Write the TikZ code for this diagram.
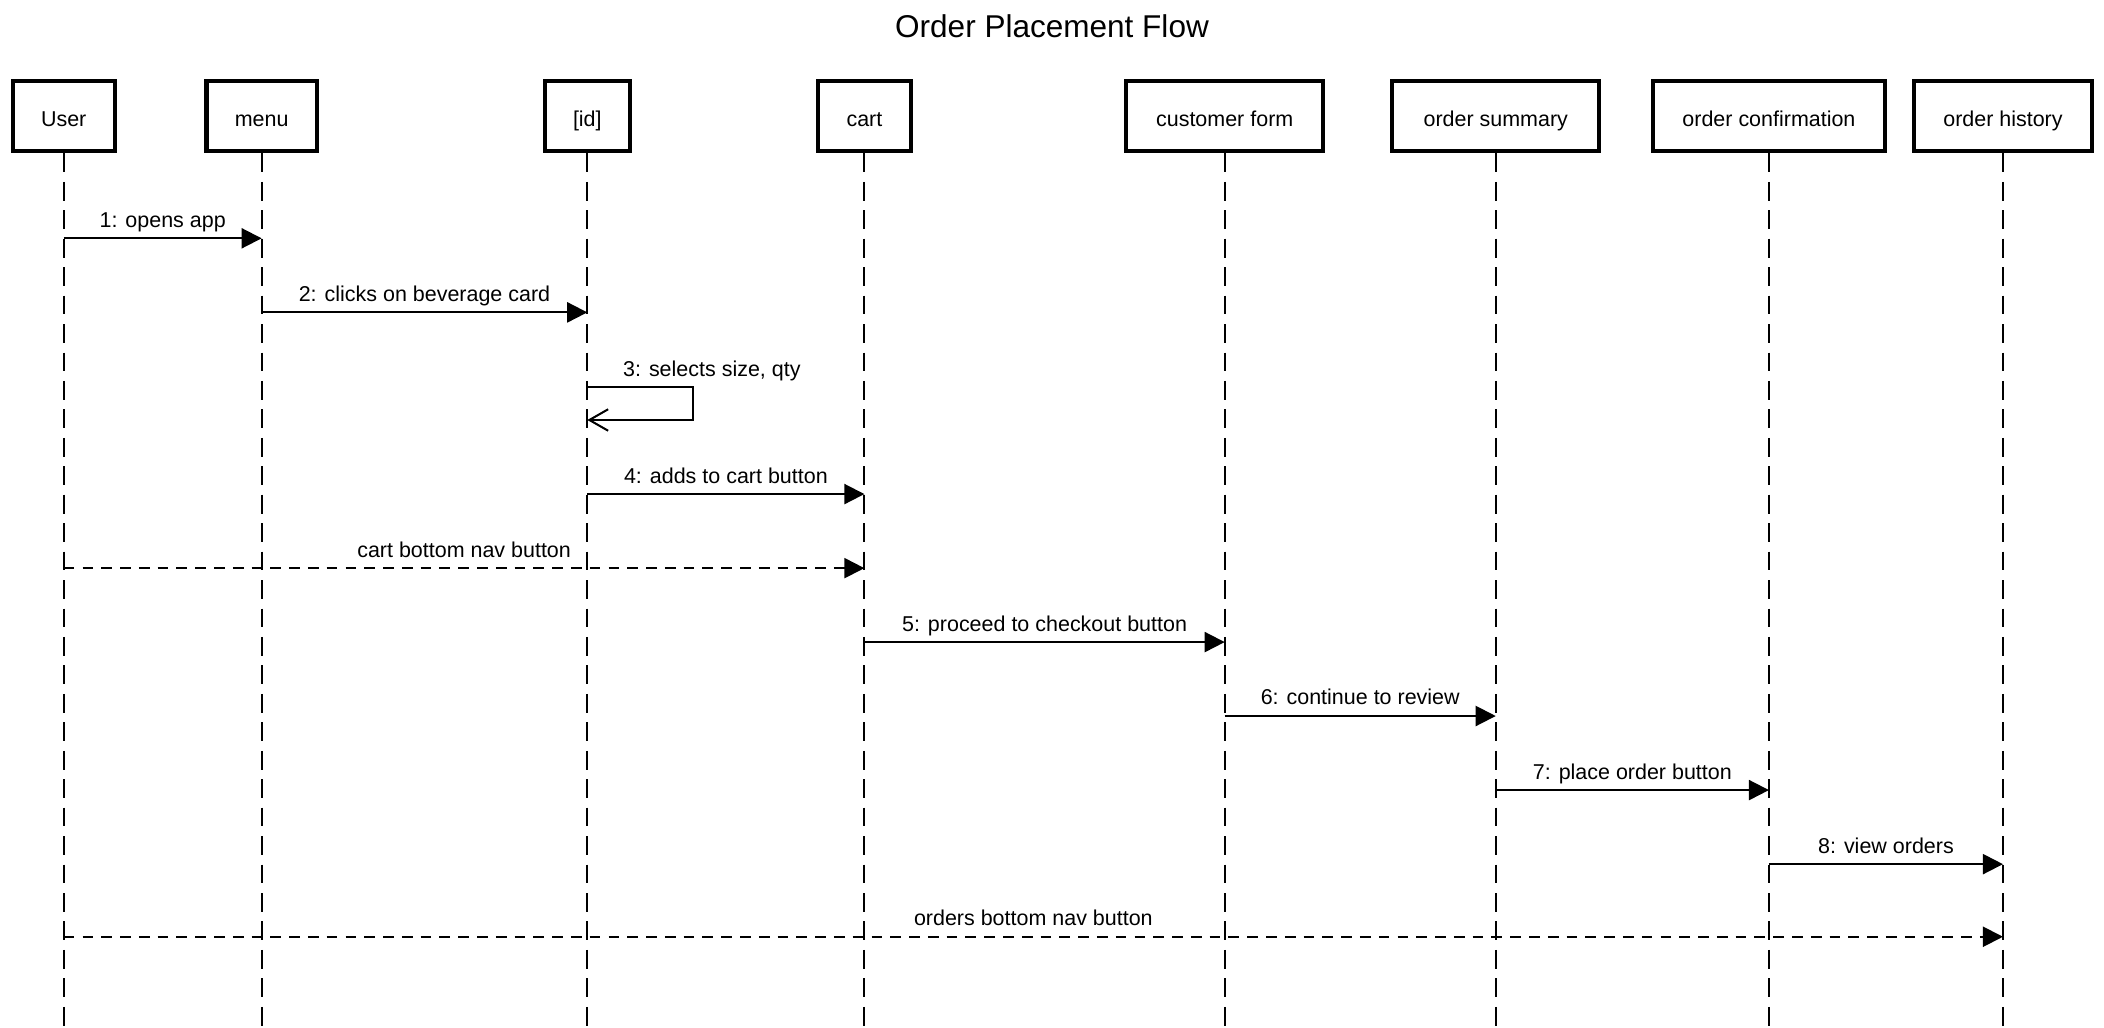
\documentclass[tikz,border=0pt]{standalone}
\usepackage{fontspec}
\setmainfont{Liberation Sans}
\usetikzlibrary{arrows.meta,positioning}

\tikzset{
	lifebox/.style={draw, line width=1.5pt, inner sep=0pt, minimum height=26.3pt, text height=7.5pt, text depth=0pt, font=\fontsize{8}{9.6}\selectfont},
	lifeline/.style={line width=0.75pt, dash pattern=on 7pt off 3.6pt},
	msg/.style={line width=0.75pt, -{Triangle[length=7.5pt,width=7.5pt]}},
	navmsg/.style={msg, dash pattern=on 4pt off 3pt},
	selfmsg/.style={line width=0.75pt, -{Straight Barb[length=7pt,width=8pt]}},
	msglabel/.style={font=\fontsize{8}{9.6}\selectfont, inner sep=0pt, text depth=0pt}
}

\begin{document}
\begin{tikzpicture}[x=0.5pt, y=-0.5pt]
			%%%%% START %%%%%
			\useasboundingbox (0, 0) rectangle (1568, 766);
			
			\node[font=\fontsize{11.75}{14}\selectfont, anchor=base] (title) at (784, 27.8) {Order Placement Flow};
			
			\node[lifebox, minimum width=38pt] (user) at (47.5, 86.5) {User};
			\node[lifebox, minimum width=41.1pt] (menu) at (195, 86.5) {menu};
			\node[lifebox, minimum width=31.6pt] (id) at (437.7, 86.5) {[id]};
			\node[lifebox, minimum width=34.7pt] (cart) at (644.2, 86.5) {cart};
			\node[lifebox, minimum width=73.5pt] (form) at (912.7, 86.5) {customer form};
			\node[lifebox, minimum width=77pt] (summary) at (1114.7, 86.5) {order summary};
			\node[lifebox, minimum width=86.75pt] (confirm) at (1318.3, 86.5) {order confirmation};
			\node[lifebox, minimum width=66.25pt] (history) at (1492.7, 86.5) {order history};
			
			\coordinate (bottom) at (0, 766);
			\draw[lifeline] (user.south) -- (user.south |- bottom);
			\draw[lifeline] (menu.south) -- (menu.south |- bottom);
			\draw[lifeline] (id.south) -- (id.south |- bottom);
			\draw[lifeline] (cart.south) -- (cart.south |- bottom);
			\draw[lifeline] (form.south) -- (form.south |- bottom);
			\draw[lifeline] (summary.south) -- (summary.south |- bottom);
			\draw[lifeline] (confirm.south) -- (confirm.south |- bottom);
			\draw[lifeline] (history.south) -- (history.south |- bottom);
			
			% message rows
			\coordinate (m1) at (0, 177.6);
			\coordinate (m2) at (0, 232.8);
			\coordinate (m3) at (0, 288.2);
			\coordinate (m3b) at (0, 313);
			\coordinate (m4) at (0, 368.2);
			\coordinate (nav1) at (0, 423.4);
			\coordinate (m5) at (0, 478.5);
			\coordinate (m6) at (0, 533.6);
			\coordinate (m7) at (0, 588.8);
			\coordinate (m8) at (0, 644);
			\coordinate (nav2) at (0, 698.1);
			
			\draw[msg] (user |- m1) -- (menu |- m1) node[msglabel, midway, above=3.75pt] {1: opens app};
			\draw[msg] (menu |- m2) -- (id |- m2) node[msglabel, midway, above=3.75pt] {2: clicks on beverage card};
			
			\draw[selfmsg] (id |- m3) -- ++(79, 0) |- (id |- m3b);
			\node[msglabel, anchor=south west, xshift=13.15pt, yshift=3.75pt] (lbl3) at (id |- m3) {3: selects size, qty};
			
			\draw[msg] (id |- m4) -- (cart |- m4) node[msglabel, midway, above=3.75pt] {4: adds to cart button};
			\draw[navmsg] (user |- nav1) -- (cart |- nav1) node[msglabel, midway, above=3.75pt] {cart bottom nav button};
			\draw[msg] (cart |- m5) -- (form |- m5) node[msglabel, midway, above=3.75pt] {5: proceed to checkout button};
			\draw[msg] (form |- m6) -- (summary |- m6) node[msglabel, midway, above=3.75pt] {6: continue to review};
			\draw[msg] (summary |- m7) -- (confirm |- m7) node[msglabel, midway, above=3.75pt] {7: place order button};
			\draw[msg] (confirm |- m8) -- (history |- m8) node[msglabel, midway, above=3.75pt] {8: view orders};
			\draw[navmsg] (user |- nav2) -- (history |- nav2) node[msglabel, midway, above=3.75pt] {orders bottom nav button};
			
			%%%%% END %%%%%
\end{tikzpicture}
\end{document}
